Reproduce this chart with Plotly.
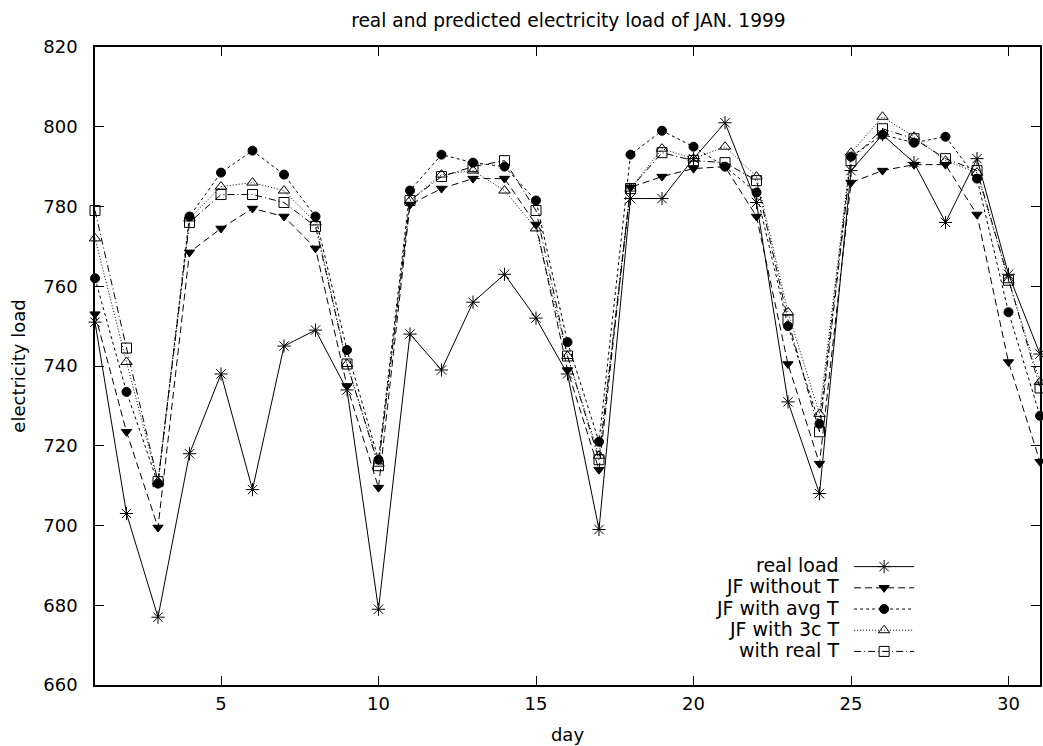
import plotly.graph_objects as go

# Day of month (January 1999)
days = [1, 2, 3, 4, 5, 6, 7, 8, 9, 10, 11, 12, 13, 14, 15, 16,
        17, 18, 19, 20, 21, 22, 23, 24, 25, 26, 27, 28, 29, 30, 31]

# Measured load
real_load = [751, 703, 677, 718, 738, 709, 745, 749, 734, 679, 748, 739, 756, 763, 752, 738,
             699, 782, 782, 792, 801, 781, 731, 708, 789, 798, 791, 776, 792, 763, 743]

# Forecasts
jf_without_t = [753, 723.5, 699.5, 768.5, 774.5, 779.5, 777.5, 769.5, 735, 709.5, 780.5, 784.5,
                787, 787, 775.5, 739, 714, 784.8, 787.5, 789.5, 790, 777.5, 740.5, 715.5,
                786, 789, 790.5, 790.5, 778, 741, 716]
jf_avg_t = [762, 733.5, 710.5, 777.5, 788.5, 794, 788, 777.5, 744, 716.5, 784, 793,
            791, 790, 781.5, 746, 721, 793, 799, 795, 790, 783.5, 750, 725.5,
            792.5, 798, 796, 797.5, 787, 753.5, 727.5]
jf_3c_t = [772, 741, 711, 777, 785, 786, 784, 776, 740.5, 715.5, 781.5, 788,
           789, 784, 774.5, 742.5, 717.5, 784.5, 794.5, 792, 795, 787.5, 753.5, 728,
           793.5, 802.5, 797.5, 791.5, 788.5, 761.5, 736]
real_t = [779, 744.5, 711, 776, 783, 783, 781, 775, 740.5, 715, 781.5, 787.5,
          790, 791.5, 779, 742.5, 716.5, 784.5, 793.5, 791.5, 791, 786.5, 751.5, 723.5,
          791.5, 799.5, 797, 792, 789, 761.5, 734.5]

series_names = ["real load", "JF without T", "JF with avg T", "JF with 3c T", "with real T"]
x_ticks = [5, 10, 15, 20, 25, 30]
y_ticks = [660, 680, 700, 720, 740, 760, 780, 800, 820]

FONT = "DejaVu Sans, Verdana, sans-serif"

styles = [
    dict(dash="solid", symbol="asterisk-open", size=11),
    dict(dash="7px,4px", symbol="triangle-down", size=9),
    dict(dash="3px,3px", symbol="circle", size=9),
    dict(dash="1px,2px", symbol="triangle-up-open", size=10),
    dict(dash="7px,3px,1px,3px", symbol="square-open", size=10),
]

fig = go.Figure()
for name, values, st in zip(series_names,
                            [real_load, jf_without_t, jf_avg_t, jf_3c_t, real_t],
                            styles):
    fig.add_trace(go.Scatter(
        x=days, y=values, name=name, mode="lines+markers",
        line=dict(color="black", width=1, dash=st["dash"]),
        marker=dict(symbol=st["symbol"], size=st["size"], color="black",
                    line=dict(color="black", width=1)),
        cliponaxis=False,
    ))

# Legend labels sit to the left of the key samples
row_y0 = 0.188
row_step = 0.0334
for i, name in enumerate(series_names):
    fig.add_annotation(
        text=name, xref="paper", yref="paper", x=0.7895, y=row_y0 - i * row_step,
        xanchor="right", yanchor="middle", showarrow=False,
        font=dict(family=FONT, size=19, color="black"),
    )

axis_common = dict(
    showline=True, linecolor="black", linewidth=1.5, mirror="ticks",
    ticks="inside", ticklen=9, tickwidth=1.2, tickcolor="black",
    showgrid=False, zeroline=False,
    tickfont=dict(family=FONT, size=18, color="black"),
)

fig.update_layout(
    width=1043, height=746,
    margin=dict(l=95, r=1, t=47, b=61),
    paper_bgcolor="white", plot_bgcolor="white",
    title=dict(text="real and predicted electricity load of JAN. 1999",
               x=0.545, xanchor="center", y=0.973, yanchor="middle",
               font=dict(family=FONT, size=18.6, color="black")),
    xaxis=dict(range=[1, 31], tickvals=x_ticks, ticklabelstandoff=2,
               title=dict(text="day", standoff=15,
                          font=dict(family=FONT, size=18, color="black")),
               **axis_common),
    yaxis=dict(range=[660, 820], tickvals=y_ticks, ticklabelstandoff=12,
               title=dict(text="electricity load", standoff=13,
                          font=dict(family=FONT, size=18, color="black")),
               **axis_common),
    showlegend=True,
    legend=dict(x=0.798, xanchor="left", y=0.21, yanchor="top",
                bgcolor="rgba(0,0,0,0)", itemwidth=60,
                font=dict(family=FONT, size=14, color="rgba(0,0,0,0)")),
)

fig.write_html("out.html")
